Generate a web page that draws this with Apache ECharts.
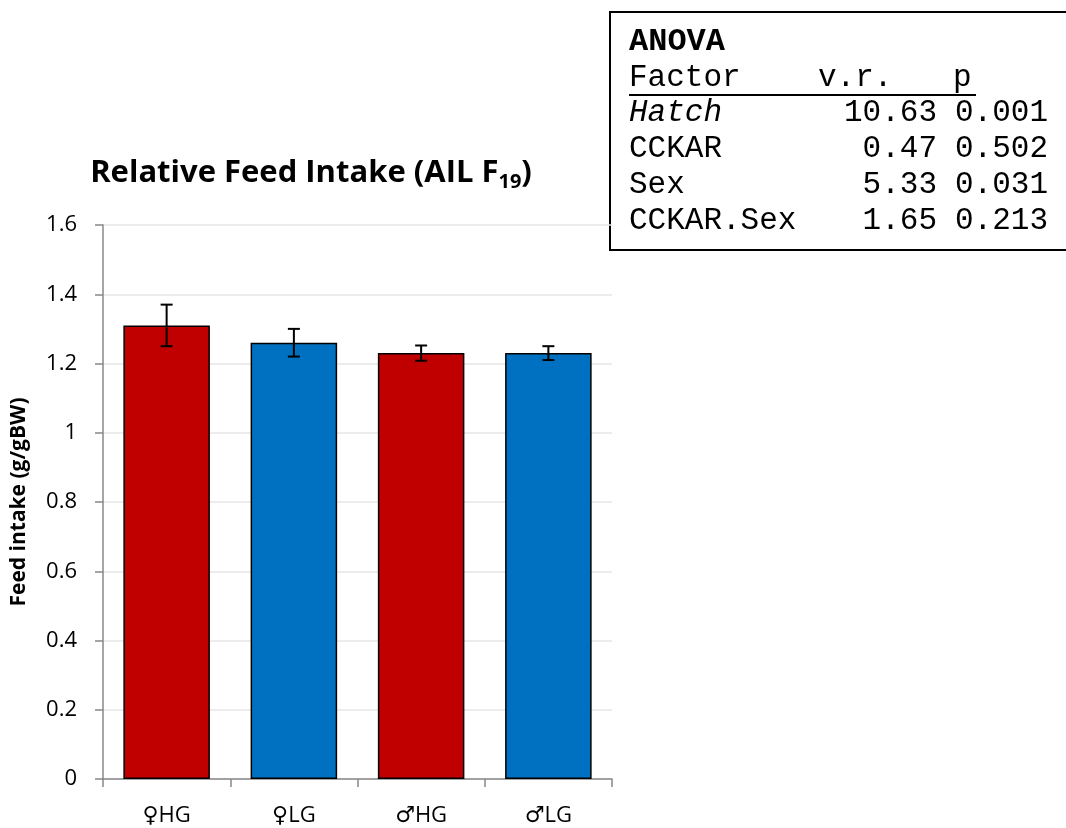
<!DOCTYPE html>
<html><head><meta charset="utf-8">
<script src="https://cdn.jsdelivr.net/npm/echarts@6/dist/echarts.min.js"></script>
<style>html,body{margin:0;padding:0;background:#fff}#c{width:1066px;height:828px}</style>
</head><body><div id="c"></div>
<script>
const categories = ['♀HG', '♀LG', '♂HG', '♂LG'];
const means = [1.31, 1.26, 1.23, 1.23];
const errors = [0.06, 0.04, 0.022, 0.02];
const barColors = ['#C00000', '#0070C0', '#C00000', '#0070C0'];
const yTicks = [0, 0.2, 0.4, 0.6, 0.8, 1, 1.2, 1.4, 1.6];
const anovaFactors = ['Hatch', 'CCKAR', 'Sex', 'CCKAR.Sex'];
const anovaVR = ['10.63', '0.47', '5.33', '1.65'];
const anovaP = ['0.001', '0.502', '0.031', '0.213'];

const chart = echarts.init(document.getElementById('c'));
const mono = '"Liberation Mono", "DejaVu Sans Mono", monospace';
const sans = '"Open Sans", "Noto Sans", sans-serif';
const rowY = [113, 149, 185, 221];
const tableText = [];
tableText.push({type:'text', x:629, y:42, style:{text:'ANOVA', font:'bold 32px ' + mono, fill:'#000', verticalAlign:'middle'}});
tableText.push({type:'text', x:629, y:78, style:{text:'Factor', font:'31px ' + mono, fill:'#000', verticalAlign:'middle'}});
tableText.push({type:'text', x:818, y:78, style:{text:'v.r.', font:'31px ' + mono, fill:'#000', verticalAlign:'middle'}});
tableText.push({type:'text', x:953, y:78, style:{text:'p', font:'31px ' + mono, fill:'#000', verticalAlign:'middle'}});
tableText.push({type:'line', shape:{x1:629, y1:95, x2:976, y2:95}, style:{stroke:'#000', lineWidth:2}});
anovaFactors.forEach((f, i) => {
  tableText.push({type:'text', x:629, y:rowY[i], style:{text:f, font:(i===0?'italic ':'') + '31px ' + mono, fill:'#000', verticalAlign:'middle'}});
  tableText.push({type:'text', x:937, y:rowY[i], style:{text:anovaVR[i], font:'31px ' + mono, fill:'#000', align:'right', verticalAlign:'middle'}});
  tableText.push({type:'text', x:955, y:rowY[i], style:{text:anovaP[i], font:'31px ' + mono, fill:'#000', align:'left', verticalAlign:'middle'}});
});

chart.setOption({
  animation: false,
  backgroundColor: '#fff',
  title: {
    text: '{t|Relative Feed Intake (AIL F}{s|19}{t|)}',
    left: 306, top: 150, textAlign: 'center',
    textStyle: {rich: {
      t: {fontFamily: sans, fontWeight: 'bold', fontSize: 31, color: '#000'},
      s: {fontFamily: sans, fontWeight: 'bold', fontSize: 20, color: '#000', padding: [17, 0, 0, 0]}
    }}
  },
  grid: {left: 103, right: 454, top: 225, bottom: 49},
  xAxis: {
    type: 'category', data: categories,
    axisLine: {lineStyle: {color: '#888', width: 1.5}},
    axisTick: {show: true, length: 8, lineStyle: {color: '#888', width: 1.5}},
    axisLabel: {margin: 26,
      formatter: v => '{g|' + v.charAt(0) + '}{t|' + v.slice(1) + '}',
      rich: {
        g: {fontFamily: '"DejaVu Sans", sans-serif', fontSize: 22, color: '#000'},
        t: {fontFamily: sans, fontSize: 22, color: '#000'}
      }}
  },
  yAxis: {
    type: 'value', min: 0, max: 1.6, interval: 0.2,
    name: 'Feed intake (g/gBW)', nameLocation: 'middle', nameGap: 84, nameRotate: 90,
    nameTextStyle: {fontFamily: sans, fontWeight: 'bold', fontSize: 21, color: '#000', verticalAlign: 'middle'},
    axisLine: {show: true, lineStyle: {color: '#888', width: 1.5}},
    axisTick: {show: true, length: 8, lineStyle: {color: '#888', width: 1.5}},
    axisLabel: {fontFamily: sans, fontSize: 22, color: '#000', margin: 26,
      formatter: v => { const t = yTicks.find(x => Math.abs(x - v) < 1e-9); return t === undefined ? '' : String(t); }},
    splitLine: {lineStyle: {color: '#e6e6e6', width: 1.5}}
  },
  series: [{
    type: 'bar', barWidth: '68%',
    data: means.map((v, i) => ({value: v, itemStyle: {color: barColors[i]}})),
    itemStyle: {borderColor: '#000', borderWidth: 1.5}
  }, {
    type: 'custom',
    data: means.map((v, i) => [i, v - errors[i], v + errors[i]]),
    renderItem: (params, api) => {
      const lo = api.coord([api.value(0), api.value(1)]);
      const hi = api.coord([api.value(0), api.value(2)]);
      const w = 6;
      const st = {stroke: '#000', lineWidth: 2};
      return {type: 'group', children: [
        {type: 'line', shape: {x1: lo[0], y1: lo[1], x2: hi[0], y2: hi[1]}, style: st},
        {type: 'line', shape: {x1: hi[0]-w, y1: hi[1], x2: hi[0]+w, y2: hi[1]}, style: st},
        {type: 'line', shape: {x1: lo[0]-w, y1: lo[1], x2: lo[0]+w, y2: lo[1]}, style: st}
      ]};
    },
    z: 10
  }],
  graphic: [
    {type: 'rect', shape: {x: 610, y: 12, width: 470, height: 238}, style: {fill: '#fff', stroke: '#000', lineWidth: 2}, z: 0},
    ...tableText
  ]
});
</script></body></html>
